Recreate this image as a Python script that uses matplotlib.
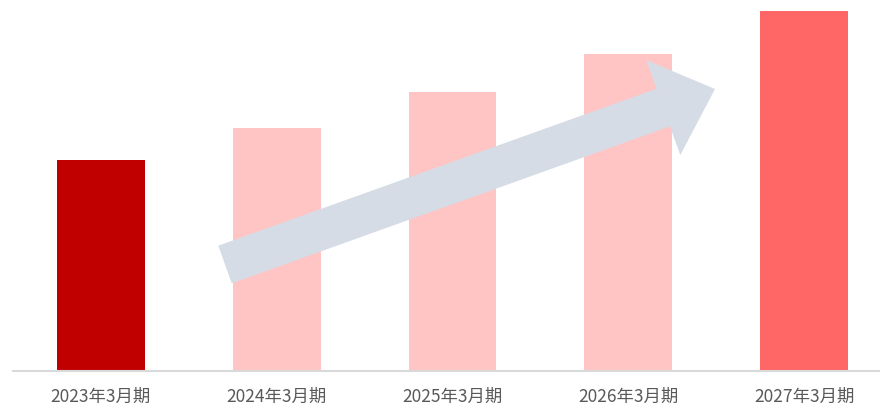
import numpy as np
import matplotlib
matplotlib.use('Agg')
import matplotlib.pyplot as plt
from matplotlib.patches import Polygon
from matplotlib.transforms import IdentityTransform

plt.rcParams['font.family'] = ['Noto Sans CJK JP', 'DejaVu Sans']

# 数据
labels = ['2023年3月期', '2024年3月期', '2025年3月期', '2026年3月期', '2027年3月期']
values = [211, 243, 279, 317, 359.5]
colors = ['#C00000', '#FFC5C5', '#FFC5C5', '#FFC5C5', '#FF6666']

W, H = 880, 406
fig = plt.figure(figsize=(W / 100, H / 100), dpi=100)
ax = fig.add_axes([13 / W, 34.5 / H, 879 / W, 371.5 / H])

x = np.arange(len(labels))
ax.bar(x, values, width=0.5, color=colors, zorder=2)
ax.set_xlim(-0.5, len(labels) - 0.5)
ax.set_ylim(0, 371.5)

ax.set_xticks(x)
ax.set_xticklabels(labels, fontsize=12.5, color='#595959')
ax.tick_params(axis='x', length=0, pad=11.5)
ax.set_yticks([])
for s in ['top', 'left', 'right']:
    ax.spines[s].set_visible(False)
ax.spines['bottom'].set_color('#D9D9D9')
ax.spines['bottom'].set_linewidth(1.5)

# 箭头 (像素坐标, 左上为原点)
tail = np.array([225.0, 265.5])
tip = np.array([715.0, 90.0])
shaft_w, head_w, head_l = 40, 101, 55
u = (tip - tail) / np.linalg.norm(tip - tail)
n = np.array([-u[1], u[0]])
base = tip - u * head_l
pts = [tail + n * shaft_w / 2, base + n * shaft_w / 2, base + n * head_w / 2, tip,
       base - n * head_w / 2, base - n * shaft_w / 2, tail - n * shaft_w / 2]
pts = np.array([[p[0], H - p[1]] for p in pts])
arrow = Polygon(pts, closed=True, facecolor='#D6DCE5', edgecolor='none',
                transform=IdentityTransform(), zorder=3)
fig.patches.append(arrow)

fig.savefig('out.png', dpi=100)
